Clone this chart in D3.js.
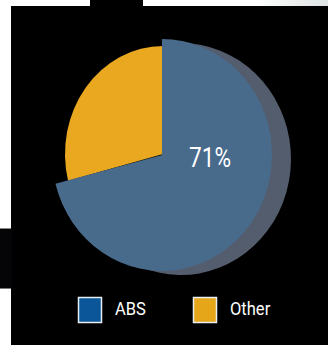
<!DOCTYPE html>
<html><head><meta charset="utf-8">
<script src="https://cdn.jsdelivr.net/npm/d3@7/dist/d3.min.js"></script>
<style>html,body{margin:0;padding:0;background:#fff;}svg{display:block;}</style>
</head><body>
<script>
const categories = ["ABS", "Other"];
const values = [71, 29];
const labels = ["71%"];
const sliceColors = ["#486a8b", "#e9a81f"];
const legendColors = ["#0a5698", "#e6a619"];

const W = 328, H = 345;
const FONT = "Roboto, 'Liberation Sans', sans-serif";
const svg = d3.select("body").append("svg").attr("width", W).attr("height", H);

// backdrop
svg.append("rect").attr("x", 0).attr("y", 0).attr("width", W).attr("height", H).attr("fill", "#fff");
const grad = svg.append("defs").append("linearGradient").attr("id", "tg").attr("x1", 0).attr("x2", 1);
grad.append("stop").attr("offset", "0.6").attr("stop-color", "#fff");
grad.append("stop").attr("offset", "1").attr("stop-color", "#dfe3e3");
svg.append("rect").attr("x", 143).attr("y", 0).attr("width", 185).attr("height", 6).attr("fill", "url(#tg)");
svg.append("rect").attr("x", 11).attr("y", 6).attr("width", W - 11).attr("height", H - 6).attr("fill", "#000");
svg.append("rect").attr("x", 90).attr("y", 0).attr("width", 53).attr("height", 7).attr("fill", "#000");
svg.append("rect").attr("x", 0).attr("y", 228).attr("width", 12).attr("height", 61).attr("fill", "#050508");
svg.append("line").attr("x1", 0).attr("x2", 11).attr("y1", 228.5).attr("y2", 228.5).attr("stroke", "#888").attr("stroke-width", 1);
svg.append("line").attr("x1", 0).attr("x2", 11).attr("y1", 288.5).attr("y2", 288.5).attr("stroke", "#777").attr("stroke-width", 1);

const pie = d3.pie().sort(null).value(d => d)(values);
const cx = 163, cy = 155;

// Other slice (behind)
const arcOther = d3.arc().innerRadius(0).outerRadius(98);
svg.append("path")
  .attr("d", arcOther(pie[1]))
  .attr("transform", `translate(${cx},${cy - 1}) scale(1,${108 / 98})`)
  .attr("fill", sliceColors[1]);

// ABS shadow + slice
const arcABS = d3.arc().innerRadius(0).outerRadius(110);
svg.append("path")
  .attr("d", arcABS(pie[0]))
  .attr("transform", `translate(${cx + 18},${cy + 4}) scale(1,${116 / 110})`)
  .attr("fill", "#545d6d");
svg.append("path")
  .attr("d", arcABS(pie[0]))
  .attr("transform", `translate(${cx - 1},${cy}) scale(1,${116 / 110})`)
  .attr("fill", sliceColors[0]);

svg.append("text")
  .attr("transform", "translate(210,167) scale(0.84,1)")
  .attr("text-anchor", "middle")
  .attr("font-family", FONT)
  .attr("font-size", 27)
  .attr("fill", "#fff")
  .text(labels[0]);

// legend
const lx = d3.scalePoint().domain(categories).range([78, 193]);
const lg = svg.append("g").selectAll("g").data(categories).join("g")
  .attr("transform", d => `translate(${lx(d)},297)`);
lg.append("rect").attr("x", 0.5).attr("y", 0.5).attr("width", 23).attr("height", 25)
  .attr("fill", (d, i) => legendColors[i]).attr("stroke", "#e8eef2").attr("stroke-width", 1.5);
lg.append("text").attr("transform", "translate(37,17.5) scale(0.87,1)")
  .attr("font-family", FONT)
  .attr("font-size", 19).attr("fill", "#fff").text(d => d);
</script>
</body></html>
